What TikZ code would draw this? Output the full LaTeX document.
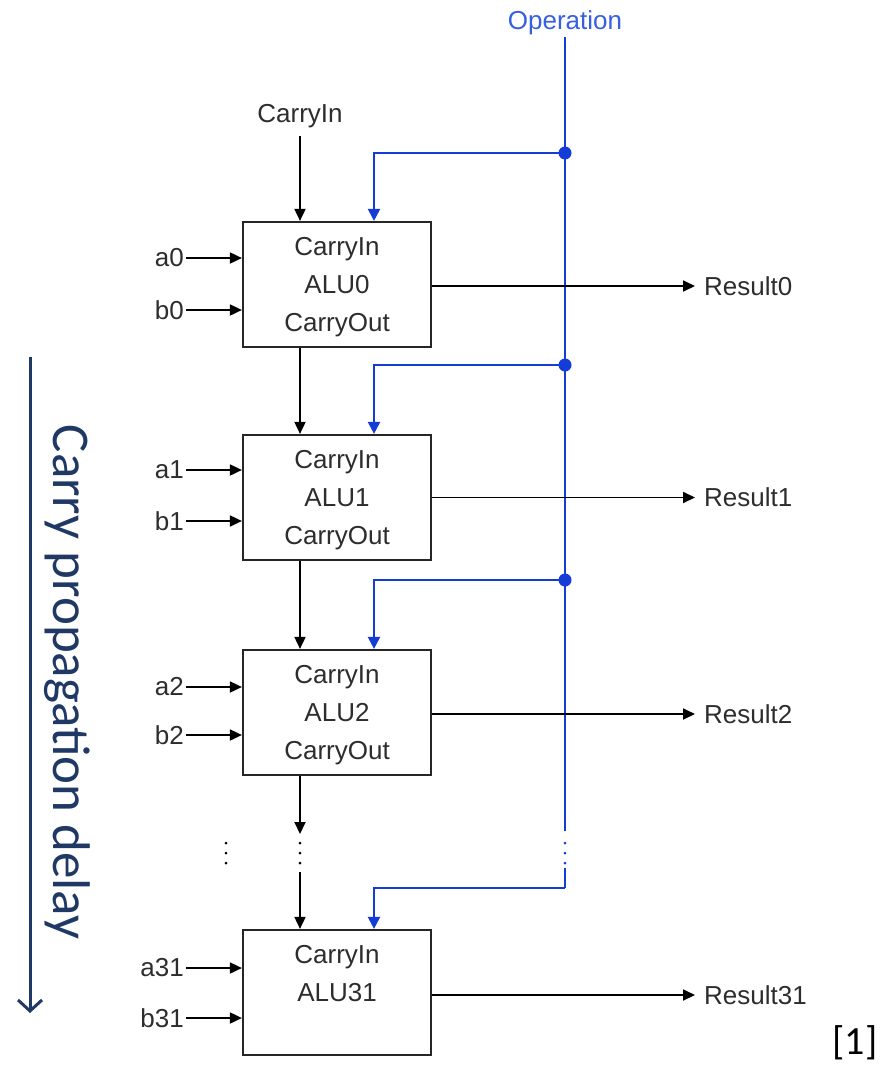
\documentclass[tikz,border=0pt]{standalone}
\usepackage{fontspec}
\setmainfont{Liberation Sans}
\newfontfamily\calib{Carlito}
\usetikzlibrary{arrows.meta,calc}
\definecolor{opblue}{RGB}{20,60,215}
\definecolor{optext}{RGB}{55,95,225}
\definecolor{navy}{RGB}{31,56,100}
\definecolor{txt}{RGB}{45,45,45}
\begin{document}
\begin{tikzpicture}[x=1pt,y=-1pt,
  lbl/.style={font=\fontsize{26}{38}\selectfont, text=txt, inner sep=2pt},
  alubox/.style={draw=black!85, line width=2.2pt, minimum width=188pt, minimum height=125pt,
    align=center, font=\fontsize{26}{38}\selectfont, text=txt, inner sep=0pt, text depth=0pt},
  wire/.style={line width=1.8pt, draw=black},
  warrow/.style={wire, -{Triangle[length=12pt,width=11pt]}},
  bwire/.style={line width=2.2pt, draw=opblue},
  barrow/.style={bwire, -{Triangle[length=12pt,width=12pt]}},
  junction/.style={circle, fill=opblue, inner sep=0pt, minimum size=13pt},
  bdot/.style={circle, fill=black, inner sep=0pt, minimum size=3pt},
  bldot/.style={circle, fill=opblue, inner sep=0pt, minimum size=3pt}]
\useasboundingbox (0,0) rectangle (885,1071);

% ALU boxes
\node[alubox] (alu0) at (337,284.5) {CarryIn\\ALU0\\CarryOut};
\node[alubox] (alu1) at (337,497.5) {CarryIn\\ALU1\\CarryOut};
\node[alubox] (alu2) at (337,712.5) {CarryIn\\ALU2\\CarryOut};
\node[alubox] (alu31) at (337,992.5) {CarryIn\\ALU31\\\mbox{}};

% Operation bus
\node[font=\fontsize{26}{30}\selectfont, text=optext, inner sep=2pt] (op) at (565,23) {Operation};
\coordinate (ox) at (374,0);
\node[junction] (j0) at (565,153) {};
\node[junction] (j1) at (565,365) {};
\node[junction] (j2) at (565,580) {};
\coordinate (opend) at (565,831);
\coordinate (opres) at (565,868);
\coordinate (ob31) at (565,888);
\draw[bwire] (op.south) -- (j0.center) -- (j1.center) -- (j2.center) -- (opend);
\node[bldot] (bd1) at (565,843) {};
\node[bldot] (bd2) at (565,853) {};
\node[bldot] (bd3) at (565,863) {};
\draw[bwire] (opres) -- (ob31);
\draw[barrow] (ob31) -| (ox |- alu31.north);
\draw[barrow] (j0.center) -| (ox |- alu0.north);
\draw[barrow] (j1.center) -| (ox |- alu1.north);
\draw[barrow] (j2.center) -| (ox |- alu2.north);

% Carry chain
\node[lbl] (cin) at (300,116) {CarryIn};
\draw[warrow, shorten <=6pt] (cin.south) -- (cin.south |- alu0.north);
\draw[warrow] (alu0.south -| cin) -- (alu1.north -| cin);
\draw[warrow] (alu1.south -| cin) -- (alu2.north -| cin);
\coordinate (c2end) at (300,834);
\coordinate (c31s) at (300,872);
\draw[warrow] (alu2.south -| cin) -- (c2end);
\node[bdot] (cd1) at (300,843) {};
\node[bdot] (cd2) at (300,853) {};
\node[bdot] (cd3) at (300,863) {};
\draw[warrow] (c31s) -- (alu31.north -| cin);
\node[bdot] (ld1) at (226,843) {};
\node[bdot] (ld2) at (226,853) {};
\node[bdot] (ld3) at (226,863) {};

% Inputs
\node[lbl, anchor=east] (a0) at (186,258) {a0};
\node[lbl, anchor=east] (b0) at (186,310) {b0};
\node[lbl, anchor=east] (a1) at (186,470) {a1};
\node[lbl, anchor=east] (b1) at (186,521) {b1};
\node[lbl, anchor=east] (a2) at (186,687) {a2};
\node[lbl, anchor=east] (b2) at (186,735) {b2};
\node[lbl, anchor=east] (a31) at (186,968) {a31};
\node[lbl, anchor=east] (b31) at (186,1018) {b31};
\foreach \i/\b in {a0/alu0,b0/alu0,a1/alu1,b1/alu1,a2/alu2,b2/alu2,a31/alu31,b31/alu31}
  \draw[warrow] (\i.east) -- (\i.east -| \b.west);

% Results
\node[lbl, anchor=west, inner xsep=9pt] (r0) at (695,286) {Result0};
\node[lbl, anchor=west, inner xsep=9pt] (r1) at (695,497.5) {Result1};
\node[lbl, anchor=west, inner xsep=9pt] (r2) at (695,714) {Result2};
\node[lbl, anchor=west, inner xsep=9pt] (r31) at (695,995) {Result31};
\draw[warrow] (alu0.east |- r0.west) -- (r0.west);
\draw[warrow] (alu1.east |- r1.west) -- (r1.west);
\draw[warrow] (alu2.east |- r2.west) -- (r2.west);
\draw[warrow] (alu31.east |- r31.west) -- (r31.west);

% Carry propagation delay
\coordinate (ds) at (30,357);
\coordinate (de) at (30,1013);
\draw[navy, line width=3pt, -{Straight Barb[length=11pt,width=24pt]}] (ds) -- (de);
\node[rotate=-90, font=\calib\fontsize{53}{60}\selectfont, text=navy, inner sep=0pt] (delay) at (67,682) {Carry propagation delay};

\node[font=\calib\fontsize{40}{48}\selectfont, inner sep=0pt] (ref) at (855,1043) {[1]};
\end{tikzpicture}
\end{document}
